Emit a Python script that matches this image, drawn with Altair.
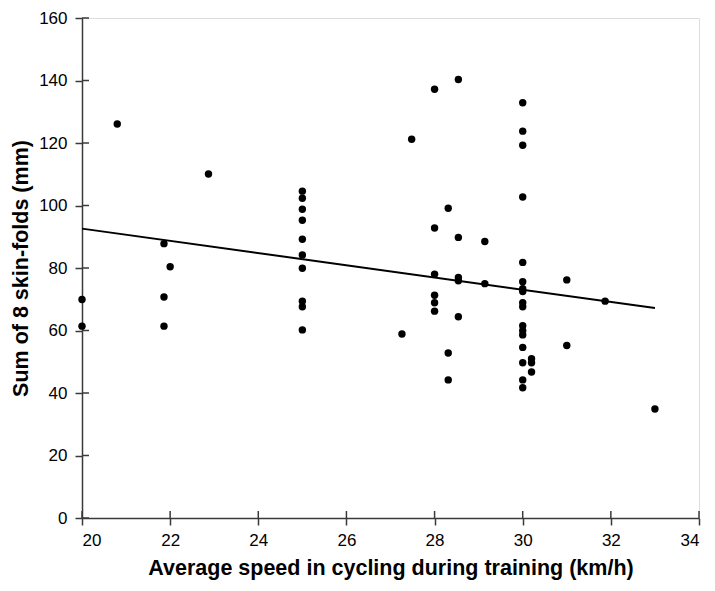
import altair as alt
import pandas as pd

speed = [
    20, 20,
    20.8,
    21.86, 21.86, 21.86,
    22.0,
    22.87,
    25, 25, 25, 25, 25, 25, 25, 25, 25, 25,
    27.26,
    27.48,
    28, 28, 28, 28, 28, 28,
    28.31, 28.31, 28.31,
    28.54, 28.54, 28.54, 28.54, 28.54,
    29.14, 29.14,
    30, 30, 30, 30, 30, 30, 30, 30, 30, 30, 30, 30, 30, 30, 30, 30, 30,
    30.2, 30.2, 30.2,
    31, 31,
    31.87,
    33,
]
skinfolds = [
    69.9, 61.4,
    126.1,
    87.8, 70.7, 61.4,
    80.4,
    110.1,
    104.6, 102.3, 98.8, 95.3, 89.2, 84.2, 79.9, 69.4, 67.6, 60.2,
    58.9,
    121.2,
    137.2, 92.8, 78.0, 71.3, 68.9, 66.2,
    99.1, 52.8, 44.2,
    140.3, 89.8, 77.0, 75.9, 64.4,
    88.5, 75.0,
    132.9, 123.8, 119.3, 102.7, 81.8, 75.6, 73.4, 72.5, 68.9, 67.6, 61.5, 59.9, 58.6, 54.6, 49.7, 44.2, 41.7,
    51.0, 49.7, 46.7,
    76.2, 55.2,
    69.4,
    34.9,
]
fit_x = [20, 33]
fit_y = [92.6, 67.2]
x_ticks = [20, 22, 24, 26, 28, 30, 32, 34]
y_ticks = [0, 20, 40, 60, 80, 100, 120, 140, 160]

W, H = 617, 500
FONT = "Liberation Sans"
AXIS_COLOR = "#3a3a3a"
TICK = 7

pts = pd.DataFrame({"speed": speed, "sf": skinfolds})
fit = pd.DataFrame({"speed": fit_x, "sf": fit_y})
xt = pd.DataFrame({"speed": x_ticks})
yt = pd.DataFrame({"sf": y_ticks})

xscale = alt.Scale(domain=[20, 34], nice=False, zero=False)
yscale = alt.Scale(domain=[0, 160], nice=False)

xaxis = alt.Axis(
    title="Average speed in cycling during training (km/h)",
    values=x_ticks, format="d", grid=False,
    domainColor=AXIS_COLOR, domainWidth=1.5, tickColor=AXIS_COLOR, tickWidth=1.5, tickSize=TICK,
    labelFont=FONT, labelFontSize=17, labelColor="black", labelPadding=7,
    titleFont=FONT, titleFontSize=21.5, titleFontWeight="bold", titleColor="black", titlePadding=9,
)
yaxis = alt.Axis(
    title="Sum of 8 skin-folds (mm)",
    values=y_ticks, format="d", grid=False,
    domainColor=AXIS_COLOR, domainWidth=1.5, tickColor=AXIS_COLOR, tickWidth=1.5, tickSize=TICK,
    labelFont=FONT, labelFontSize=17, labelColor="black", labelPadding=8,
    titleFont=FONT, titleFontSize=21.5, titleFontWeight="bold", titleColor="black", titlePadding=6,
)

points = alt.Chart(pts).mark_circle(size=55, color="black", opacity=1).encode(
    x=alt.X("speed:Q", scale=xscale, axis=xaxis),
    y=alt.Y("sf:Q", scale=yscale, axis=yaxis),
)

line = alt.Chart(fit).mark_line(color="black", strokeWidth=2).encode(
    x=alt.X("speed:Q", scale=xscale),
    y=alt.Y("sf:Q", scale=yscale),
)

inner_xticks = alt.Chart(xt).mark_rule(color=AXIS_COLOR, strokeWidth=1.5).encode(
    x=alt.X("speed:Q", scale=xscale),
    y=alt.value(H),
    y2=alt.value(H - TICK),
)
inner_yticks = alt.Chart(yt).mark_rule(color=AXIS_COLOR, strokeWidth=1.5).encode(
    y=alt.Y("sf:Q", scale=yscale),
    x=alt.value(0),
    x2=alt.value(TICK),
)

chart = alt.layer(inner_xticks, inner_yticks, line, points).properties(
    width=W, height=H,
    autosize=alt.AutoSizeParams(type="none"),
    padding={"left": 74, "top": 10, "right": 8, "bottom": 65},
).configure_view(stroke=None).configure(background="white")

chart.save("out.html", embed_options={"renderer": "svg", "actions": False})
